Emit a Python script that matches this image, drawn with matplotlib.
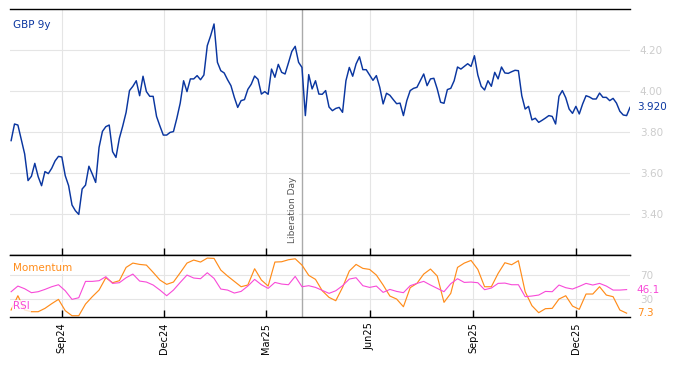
import numpy as np
import pandas as pd
import matplotlib
matplotlib.use("Agg")
import matplotlib.pyplot as plt
import matplotlib.dates as mdates
import matplotlib.transforms as mtransforms

# GBP 9y yield, read every 3 calendar days from the chart
start_day = "2024-07-18"
gbp_9y = [
    3.758, 3.839, 3.834, 3.763, 3.693, 3.563, 3.584, 3.647, 3.582, 3.538,
    3.607, 3.597, 3.623, 3.659, 3.681, 3.678, 3.587, 3.538, 3.444, 3.416,
    3.398, 3.522, 3.541, 3.633, 3.595, 3.554, 3.725, 3.803, 3.826, 3.834,
    3.704, 3.676, 3.769, 3.829, 3.896, 4.002, 4.023, 4.050, 3.977, 4.072,
    3.997, 3.974, 3.974, 3.876, 3.829, 3.785, 3.785, 3.798, 3.802, 3.867,
    3.941, 4.050, 3.997, 4.059, 4.059, 4.075, 4.055, 4.078, 4.221, 4.270,
    4.327, 4.140, 4.099, 4.088, 4.055, 4.026, 3.969, 3.920, 3.953, 3.958,
    4.008, 4.033, 4.073, 4.057, 3.985, 3.997, 3.984, 4.107, 4.067, 4.130,
    4.091, 4.083, 4.137, 4.193, 4.218, 4.140, 4.115, 3.880, 4.080, 4.010,
    4.050, 3.985, 3.984, 4.002, 3.922, 3.904, 3.915, 3.920, 3.896, 4.050,
    4.115, 4.072, 4.132, 4.167, 4.104, 4.104, 4.078, 4.052, 4.075, 4.018,
    3.937, 3.989, 3.979, 3.958, 3.938, 3.941, 3.880, 3.953, 4.002, 4.013,
    4.018, 4.050, 4.083, 4.026, 4.059, 4.062, 4.010, 3.945, 3.940, 4.007,
    4.013, 4.050, 4.117, 4.107, 4.120, 4.133, 4.120, 4.172, 4.078, 4.023,
    4.005, 4.050, 4.023, 4.091, 4.059, 4.117, 4.088, 4.086, 4.094, 4.101,
    4.099, 3.977, 3.912, 3.925, 3.859, 3.867, 3.847, 3.857, 3.868, 3.880,
    3.876, 3.839, 3.974, 4.002, 3.967, 3.912, 3.891, 3.925, 3.888, 3.937,
    3.977, 3.971, 3.961, 3.961, 3.990, 3.969, 3.969, 3.953, 3.964, 3.941,
    3.901, 3.883, 3.880, 3.920,
]

# indicators, read every 6 calendar days
momentum = [
    12.5, 36.0, 12.5, 9.7, 9.7, 15.2, 22.9, 30.0, 11.4, 3.1,
    3.1, 22.3, 34.4, 45.3, 65.6, 57.4, 60.7, 82.6, 89.7, 87.5,
    86.4, 74.4, 61.8, 54.7, 58.5, 73.8, 89.7, 94.7, 91.4, 97.9,
    97.4, 78.2, 68.4, 59.6, 50.8, 53.6, 80.4, 61.8, 51.9, 91.4,
    91.9, 95.2, 96.8, 86.4, 69.5, 62.9, 44.2, 33.3, 27.8, 49.7,
    76.6, 87.5, 81.0, 79.3, 70.0, 53.6, 35.5, 30.5, 17.9, 49.2,
    56.3, 71.6, 79.9, 68.4, 25.1, 39.9, 82.6, 89.7, 94.1, 79.3,
    50.8, 50.8, 72.7, 90.3, 87.0, 93.6, 42.6, 19.6, 8.1, 14.7,
    15.2, 30.5, 36.0, 19.0, 13.6, 38.8, 38.8, 50.8, 37.1, 34.4,
    12.5, 7.3,
]
rsi = [
    42.6, 51.9, 47.5, 41.0, 42.6, 46.4, 50.8, 54.1, 44.2, 30.0,
    32.7, 59.6, 59.6, 60.7, 67.3, 56.3, 57.4, 65.6, 71.6, 60.1,
    58.5, 53.6, 45.3, 36.0, 45.3, 57.9, 70.0, 65.1, 64.0, 73.8,
    64.5, 47.0, 45.3, 40.4, 43.1, 51.9, 62.9, 54.1, 48.1, 57.9,
    55.2, 54.1, 67.8, 50.8, 52.5, 49.7, 44.8, 39.9, 44.2, 52.5,
    63.4, 65.6, 52.5, 49.7, 51.9, 41.5, 46.4, 43.1, 41.0, 52.5,
    56.3, 59.6, 53.6, 48.1, 42.6, 55.8, 64.0, 57.9, 58.5, 57.4,
    45.9, 48.6, 56.3, 56.8, 54.1, 54.1, 34.4, 35.5, 37.1, 43.1,
    42.6, 53.6, 49.2, 47.0, 51.4, 56.3, 53.6, 56.3, 51.9, 45.3,
    45.3, 46.1,
]

yield_ticks = [3.40, 3.60, 3.80, 4.00, 4.20]
ind_ticks = [30, 70]
month_ticks = ["2024-09-01", "2024-12-01", "2025-03-01", "2025-06-01", "2025-09-01", "2025-12-01"]
event_day = "2025-04-02"
event_name = "Liberation Day"

dates = pd.date_range(start_day, periods=len(gbp_9y), freq="3D")
ind_dates = pd.date_range(start_day, periods=len(momentum), freq="6D")

navy = "#0a36a0"
orange = "#ff8c1a"
pink = "#f84ad8"
grid_c = "#e5e5e5"
lab_c = "#cccccc"

fig = plt.figure(figsize=(6.74, 3.66), dpi=100)
ax = fig.add_axes([10 / 674, 1 - 255 / 366, 620 / 674, 246 / 366])
ax2 = fig.add_axes([10 / 674, 1 - 317 / 366, 620 / 674, 62 / 366], sharex=ax)

xmin, xmax = pd.Timestamp("2024-07-17"), pd.Timestamp("2026-01-18")

for a in (ax, ax2):
    a.set_xlim(xmin, xmax)
    a.set_xticks(pd.to_datetime(month_ticks))
    a.grid(True, color=grid_c, lw=0.8)
    a.set_axisbelow(True)
    for s in ("left", "right"):
        a.spines[s].set_visible(False)
    a.spines["top"].set_linewidth(1.0)
    a.spines["bottom"].set_linewidth(1.0)
    a.yaxis.tick_right()
    a.tick_params(axis="y", length=0, pad=7, labelcolor=lab_c, labelsize=7.5)
    a.tick_params(axis="x", direction="in", length=5, width=1, color="black")
    a.axvline(pd.Timestamp(event_day), color="#aaaaaa", lw=1, zorder=1)

# main panel
ax.plot(dates, gbp_9y, color=navy, lw=1.05)
ax.set_ylim(3.2, 4.4)
ax.set_yticks(yield_ticks)
ax.set_yticklabels([f"{v:.2f}" for v in yield_ticks])
ax.tick_params(axis="x", labelbottom=False)
ax.text(0.005, 0.935, "GBP 9y", transform=ax.transAxes, color=navy, fontsize=7.5, va="center")
ax.text(1.011, gbp_9y[-1], f"{gbp_9y[-1]:.3f}", transform=mtransforms.blended_transform_factory(ax.transAxes, ax.transData),
        color=navy, fontsize=7.5, va="center")
trans = mtransforms.blended_transform_factory(ax.transData, ax.transAxes)
ax.text(pd.Timestamp(event_day) - pd.Timedelta(days=4), 0.05, event_name, transform=trans, rotation=90,
        ha="right", va="bottom", fontsize=6.5, color="#555555",
        bbox=dict(facecolor="white", edgecolor="none", alpha=0.85, pad=1))

# indicator panel
ax2.plot(ind_dates, momentum, color=orange, lw=0.85)
ax2.plot(ind_dates, rsi, color=pink, lw=0.8)
ax2.set_ylim(1, 103)
ax2.set_yticks(ind_ticks)
ax2.xaxis.set_major_formatter(mdates.DateFormatter("%b%y"))
ax2.tick_params(axis="x", labelrotation=90, labelsize=7, pad=4)
rt = mtransforms.blended_transform_factory(ax2.transAxes, ax2.transData)
ax2.text(1.011, rsi[-1], f"{rsi[-1]:.1f}", transform=rt, color=pink, fontsize=7.5, va="center")
ax2.text(1.011, momentum[-1], f"{momentum[-1]:.1f}", transform=rt, color=orange, fontsize=7.5, va="center")
ax2.text(0.005, 0.79, "Momentum", transform=ax2.transAxes, color=orange, fontsize=7.5, va="center",
         bbox=dict(facecolor="white", edgecolor="none", alpha=0.8, pad=0.5))
ax2.text(0.005, 0.18, "RSI", transform=ax2.transAxes, color=pink, fontsize=7.5, va="center",
         bbox=dict(facecolor="white", edgecolor="none", alpha=0.8, pad=0.5))

fig.savefig("out.png", dpi=100)
